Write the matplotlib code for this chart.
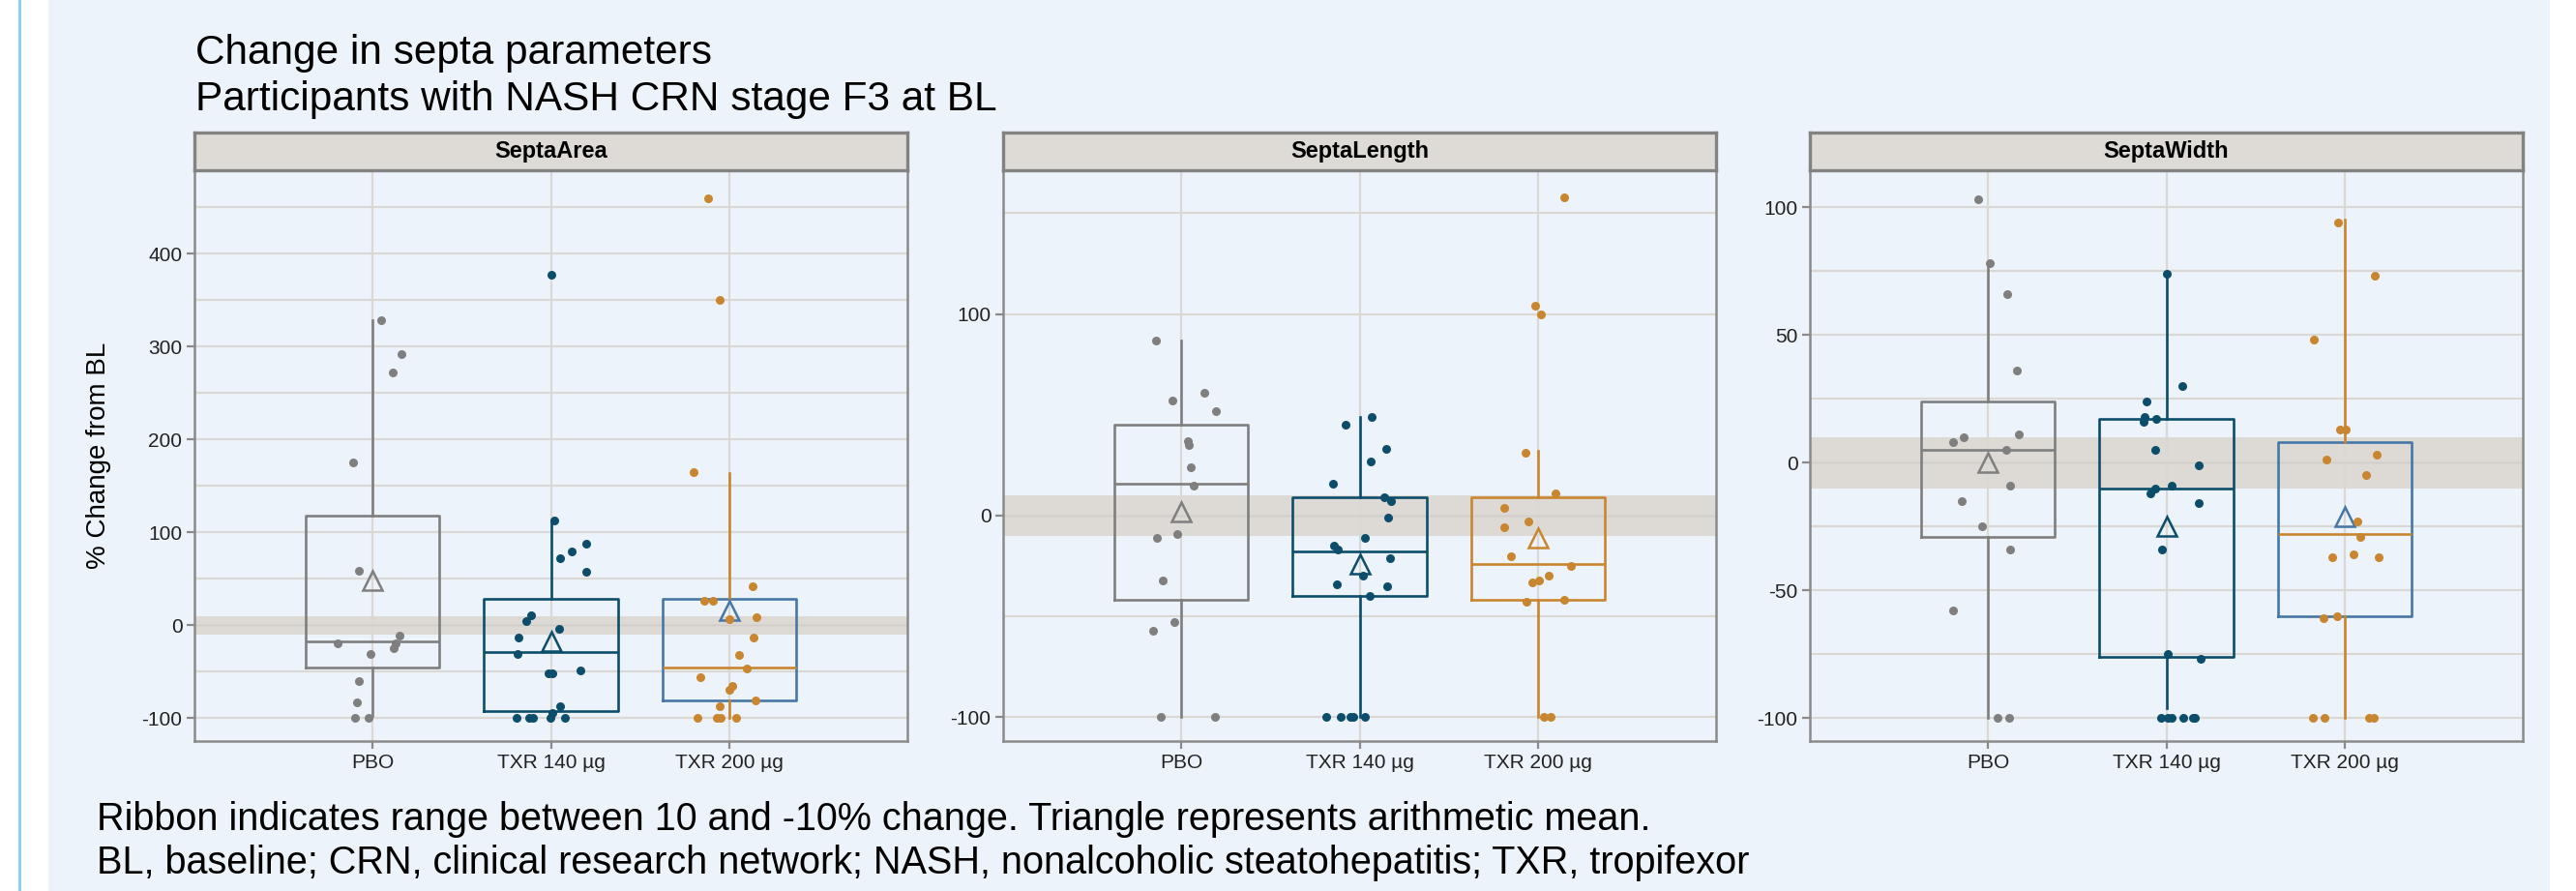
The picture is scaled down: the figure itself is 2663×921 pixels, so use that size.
"""Change in septa parameters: box + jittered points, three facets."""
import numpy as np
import matplotlib
matplotlib.use("Agg")
import matplotlib.pyplot as plt
from matplotlib.ticker import MultipleLocator, FixedLocator
from matplotlib.patches import Rectangle
from matplotlib.lines import Line2D

plt.rcParams["font.family"] = ["Liberation Sans", "DejaVu Sans"]
plt.rcParams["axes.unicode_minus"] = False

groups = ["PBO", "TXR 140 µg", "TXR 200 µg"]
panels = ["SeptaArea", "SeptaLength", "SeptaWidth"]

# individual % change values
area_pbo = [328, 292, 272, 175, 59, -11, -19, -19, -25, -31, -60, -83, -100, -100]
area_140 = [377, 113, 88, 80, 72, 58, 11, 5, -4, -13, -31, -52, -52, -48, -87, -94,
            -100, -100, -100, -100, -100]
area_200 = [459, 350, 165, 42, 26, 26, 9, 7, -13, -32, -46, -56, -65, -69, -81, -87,
            -100, -100, -100, -100]
length_pbo = [87, 61, 57, 52, 37, 35, 24, 15, -11, -9, -32, -53, -57, -100, -100]
length_140 = [49, 45, 33, 27, 16, 9, 7, -1, -11, -15, -17, -21, -30, -34, -35, -40,
              -100, -100, -100, -100, -100]
length_200 = [158, 104, 100, 31, 11, 4, -3, -6, -20, -25, -30, -33, -32, -42, -43,
              -100, -100]
width_pbo = [103, 78, 66, 36, 10, 11, 8, 5, -9, -15, -25, -34, -58, -100, -100]
width_140 = [74, 30, 24, 18, 17, 16, 5, -1, -9, -10, -12, -16, -34, -77, -75,
             -100, -100, -100, -100, -100, -100]
width_200 = [94, 73, 48, 13, 13, 3, 1, -5, -23, -29, -36, -37, -37, -60, -61,
             -100, -100, -100, -100]

# box statistics per group (PBO, 140, 200)
area_q1 = [-45, -92, -81]
area_med = [-17, -29, -45]
area_q3 = [118, 29, 29]
area_lo = [-97, -98, -100]
area_hi = [328, 113, 164]
area_mean = [48, -17, 16]

length_q1 = [-42, -40, -42]
length_med = [16, -18, -24]
length_q3 = [45, 9, 9]
length_lo = [-100, -100, -100]
length_hi = [87, 49, 32]
length_mean = [2, -24, -11]

width_q1 = [-29, -76, -60]
width_med = [5, -10, -28]
width_q3 = [24, 17, 8]
width_lo = [-100, -96, -100]
width_hi = [78, 73, 95]
width_mean = [0, -25, -21]

points = [[area_pbo, area_140, area_200],
          [length_pbo, length_140, length_200],
          [width_pbo, width_140, width_200]]
stats = [[area_q1, area_med, area_q3, area_lo, area_hi, area_mean],
         [length_q1, length_med, length_q3, length_lo, length_hi, length_mean],
         [width_q1, width_med, width_q3, width_lo, width_hi, width_mean]]

GREY = "#7F7F7F"
TEAL = "#0B4D6B"
ORANGE = "#C98630"
STEEL = "#4677A6"
BG = "#EDF3FA"
GRID = "#DAD8D4"
RIBBON = "#DDDAD6"
SPINE = "#8A8A8A"

point_col = [GREY, TEAL, ORANGE]
line_col = [GREY, TEAL, ORANGE]
box_col = [[GREY, TEAL, STEEL], [GREY, TEAL, ORANGE], [GREY, TEAL, STEEL]]

ylims = [(-124.5, 489.6), (-111.9, 171.3), (-109, 114.4)]
major = [100, 100, 50]
minor_grid = [[-50, 50, 150, 250, 350, 450], [-50, 150], [-75, -25, 25, 75]]

W, H = 2663, 921
fig = plt.figure(figsize=(W / 100, H / 100), dpi=100)
fig.patch.set_facecolor("white")
fig.patches.append(Rectangle((50 / W, 0), (2636 - 50) / W, 1, transform=fig.transFigure,
                             facecolor=BG, edgecolor="none", zorder=-10))
fig.lines.append(Line2D([20 / W, 20 / W], [0, 1], transform=fig.transFigure,
                        color="#8CCFF0", linewidth=2.2, zorder=-9))


def px_axes(x0, y0, x1, y1):
    return fig.add_axes([x0 / W, 1 - y1 / H, (x1 - x0) / W, (y1 - y0) / H])


lefts = [201, 1037, 1871]
pw = 737
top, bottom, strip_top = 176, 766, 137
rng = np.random.default_rng(7)

for p, name in enumerate(panels):
    x0 = lefts[p]
    ax = px_axes(x0, top, x0 + pw, bottom)
    ax.set_facecolor(BG)
    ax.set_xlim(0, 4)
    ax.set_ylim(*ylims[p])
    ax.yaxis.set_major_locator(MultipleLocator(major[p]))
    ax.yaxis.set_minor_locator(FixedLocator(minor_grid[p]))
    ax.grid(True, which="both", axis="y", color=GRID, linewidth=1.6, zorder=0)
    ax.grid(True, which="major", axis="x", color=GRID, linewidth=1.6, zorder=0)
    ax.set_axisbelow(True)
    ax.axhspan(-10, 10, color=RIBBON, linewidth=0, zorder=0.5)
    ax.axhline(0, color="#D0CDC8", linewidth=1.0, zorder=0.6)

    q1, med, q3, lo, hi, mean = stats[p]
    for g in range(3):
        st = [dict(q1=q1[g], med=med[g], q3=q3[g], whislo=lo[g], whishi=hi[g],
                   mean=mean[g], fliers=[])]
        bc = box_col[p][g]
        ax.bxp(st, positions=[g + 1], widths=0.75, showcaps=False, showfliers=False,
               showmeans=True, patch_artist=False,
               boxprops=dict(color=bc, linewidth=1.9),
               whiskerprops=dict(color=line_col[g], linewidth=1.9),
               medianprops=dict(color=line_col[g], linewidth=1.9),
               meanprops=dict(marker="^", markersize=14, markerfacecolor="none",
                              markeredgecolor=bc, markeredgewidth=1.8),
               manage_ticks=False)
        vals = np.asarray(points[p][g], dtype=float)
        jit = rng.uniform(-0.2, 0.2, size=len(vals))
        ax.scatter(g + 1 + jit, vals, s=42, color=point_col[g], linewidths=0, zorder=4)

    ax.set_xticks([1, 2, 3])
    ax.set_xticklabels(groups)
    ax.tick_params(axis="both", which="major", labelsize=15, length=6, width=1.6,
                   color=SPINE, labelcolor="#222222", pad=3)
    ax.tick_params(axis="y", which="minor", length=0)
    for s in ax.spines.values():
        s.set_color(SPINE)
        s.set_linewidth(1.8)

    sax = px_axes(x0, strip_top, x0 + pw, top)
    sax.set_facecolor("#DEDBD6")
    sax.set_xticks([])
    sax.set_yticks([])
    for s in sax.spines.values():
        s.set_color("#828282")
        s.set_linewidth(2.4)
    sax.text(0.5, 0.5, name, ha="center", va="center", fontsize=17,
             fontweight="bold", transform=sax.transAxes)

fig.text(102 / W, 1 - (top + bottom) / 2 / H, "% Change from BL", fontsize=20,
         rotation=90, ha="center", va="center")
fig.text(202 / W, 1 - 66 / H, "Change in septa parameters", fontsize=30.5,
         ha="left", va="baseline")
fig.text(202 / W, 1 - 114 / H, "Participants with NASH CRN stage F3 at BL", fontsize=30.5,
         ha="left", va="baseline")
fig.text(100 / W, 1 - 858 / H,
         "Ribbon indicates range between 10 and -10% change. Triangle represents arithmetic mean.",
         fontsize=28.5, ha="left", va="baseline")
fig.text(100 / W, 1 - 903 / H,
         "BL, baseline; CRN, clinical research network; NASH, nonalcoholic steatohepatitis; TXR, tropifexor",
         fontsize=28.5, ha="left", va="baseline")

fig.savefig("out.png", dpi=100, facecolor=fig.get_facecolor())
